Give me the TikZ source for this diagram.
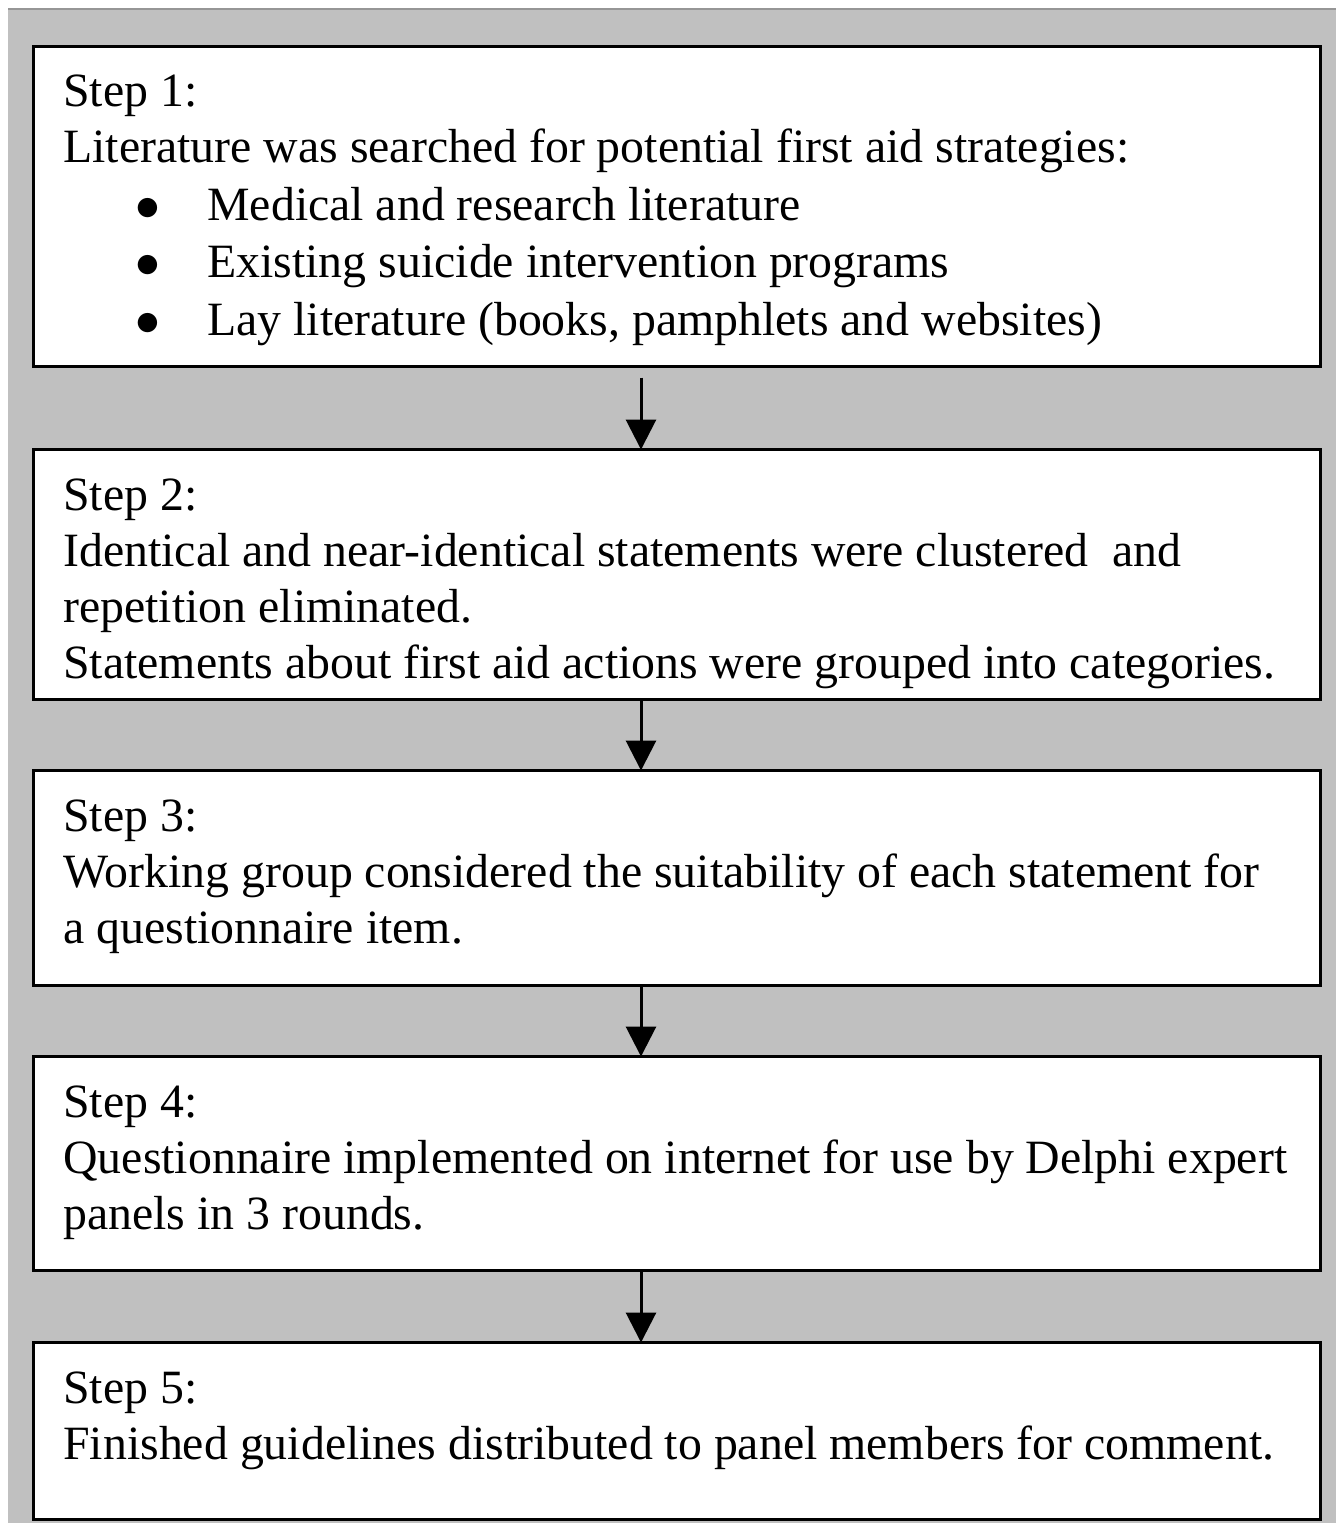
\documentclass[tikz,border=0pt]{standalone}
\usepackage{fontspec}
\setmainfont{Liberation Serif}
\usetikzlibrary{arrows.meta}
\definecolor{bggray}{HTML}{C0C0C0}
\definecolor{edgegray}{HTML}{969696}
\newcommand{\bulitem}{\hspace*{36pt}\makebox[36pt][l]{$\bullet$}}
\begin{document}
\begin{tikzpicture}[x=0.5pt,y=-0.5pt,
  stepbox/.style={draw=black, fill=white, line width=1.5pt, rectangle, inner sep=0pt, outer sep=0pt, anchor=north west, minimum width=643.5pt},
  steptext/.style={anchor=north west, inner sep=0pt, align=left, font=\fontsize{23.9pt}{28pt}\selectfont},
  flow/.style={line width=1.5pt, -{Triangle[length=15pt,width=15pt]}}]
\useasboundingbox (0,0) rectangle (1336,1523);
\fill[bggray] (8,8) rectangle (1336,1523);
\draw[edgegray, line width=1pt] (8,8.5) -- (1336,8.5);
% boxes
\node[stepbox, minimum height=160.25pt] (b1) at (33,46) {};
\node[stepbox, minimum height=125pt] (b2) at (33,449.5) {};
\node[stepbox, minimum height=107.25pt] (b3) at (33,770.5) {};
\node[stepbox, minimum height=107pt] (b4) at (33,1056.5) {};
\node[stepbox, minimum height=88.25pt] (b5) at (33,1342.5) {};
% texts
\node[steptext] (t1) at (63,46) {\rule{0pt}{30.25pt}Step 1:\\
Literature was searched for potential first aid strategies:\\[0.75pt]
\bulitem Medical and research literature\\[0.75pt]
\bulitem Existing suicide intervention programs\\[0.75pt]
\bulitem Lay literature (books, pamphlets and websites)};
\node[steptext] (t2) at (63,449.5) {\rule{0pt}{30.25pt}Step 2:\\
Identical and near-identical statements were clustered\ \ and\\
repetition eliminated.\\
Statements about first aid actions were grouped into categories.};
\node[steptext] (t3) at (63,770.5) {\rule{0pt}{30.25pt}Step 3:\\
Working group considered the suitability of each statement for\\
a questionnaire item.};
\node[steptext] (t4) at (63,1056.5) {\rule{0pt}{30.25pt}Step 4:\\
Questionnaire implemented on internet for use by Delphi expert\\
panels in 3 rounds.};
\node[steptext] (t5) at (63,1342.5) {\rule{0pt}{30.25pt}Step 5:\\
Finished guidelines distributed to panel members for comment.};
% arrows
\coordinate (ax) at (641,0);
\draw[flow, shorten <=5.5pt] (b1.south -| ax) -- (b2.north -| ax);
\draw[flow] (b2.south -| ax) -- (b3.north -| ax);
\draw[flow] (b3.south -| ax) -- (b4.north -| ax);
\draw[flow] (b4.south -| ax) -- (b5.north -| ax);
\end{tikzpicture}
\end{document}
